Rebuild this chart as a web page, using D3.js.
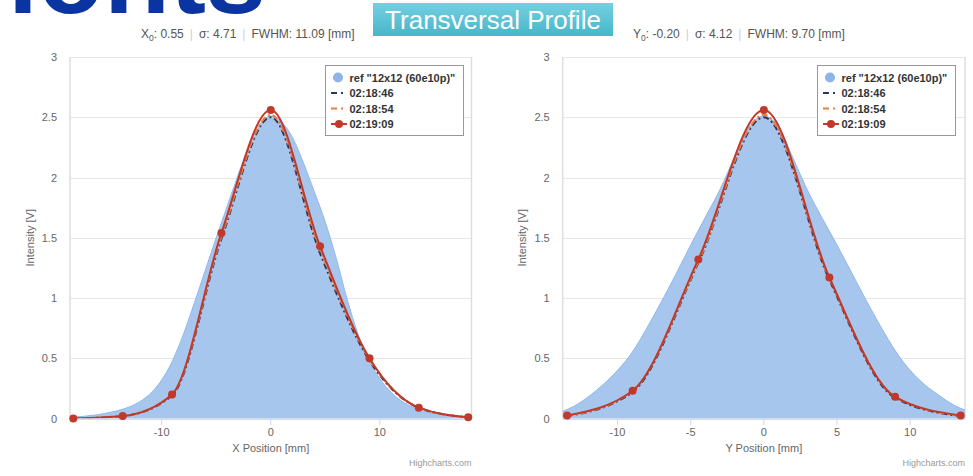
<!DOCTYPE html>
<html>
<head>
<meta charset="utf-8">
<script src="https://cdn.jsdelivr.net/npm/d3@7"></script>
<style>
  html, body { margin: 0; padding: 0; background: #fff; }
  svg { display: block; }
  text { font-family: "Liberation Sans", Arial, sans-serif; }
</style>
</head>
<body>
<svg id="chart" width="973" height="476"></svg>
<script>
// ---------------- DATA ----------------
const titleText = "Transversal Profile";
const logoText = "ionts";
const seriesNames = ['ref "12x12 (60e10p)"', "02:18:46", "02:18:54", "02:19:09"];
const yTicks = [0, 0.5, 1, 1.5, 2, 2.5, 3];

// Left panel (X profile)
const xStatsLeft = { label: "X", mean: "0.55", sigma: "4.71", fwhm: "11.09" };
const xTicksLeft = [-10, 0, 10];
const xRefLeft = [-18.4, -16, -14.5, -13, -12, -11, -10, -9, -8, -7, -6, -5, -4, -3, -2, -1, 0, 1, 2, 3, 4, 5, 6, 7, 8, 9, 10, 11, 12, 13, 14, 15, 16, 18.4];
const yRefLeft = [0.01, 0.03, 0.055, 0.095, 0.14, 0.21, 0.32, 0.48, 0.70, 0.96, 1.23, 1.50, 1.76, 2.02, 2.26, 2.44, 2.51, 2.46, 2.33, 2.12, 1.88, 1.63, 1.33, 0.99, 0.70, 0.48, 0.33, 0.22, 0.145, 0.095, 0.06, 0.04, 0.025, 0.01];
const xPtsLeft = [-18.1, -13.57, -9.05, -4.52, 0, 4.52, 9.05, 13.57, 18.1];
const y1846Left = [0.00, 0.02, 0.19, 1.49, 2.50, 1.37, 0.48, 0.09, 0.01];
const y1854Left = [0.00, 0.02, 0.20, 1.51, 2.52, 1.40, 0.49, 0.09, 0.01];
const y1909Left = [0.00, 0.02, 0.20, 1.54, 2.56, 1.43, 0.50, 0.09, 0.01];

// Right panel (Y profile)
const yStatsRight = { label: "Y", mean: "-0.20", sigma: "4.12", fwhm: "9.70" };
const xTicksRight = [-10, -5, 0, 5, 10];
const xRefRight = [-13.75, -13, -12, -11, -10, -9, -8, -7, -6, -5, -4, -3, -2, -1, 0, 1, 2, 3, 4, 5, 6, 7, 8, 9, 10, 11, 12, 13, 13.75];
const yRefRight = [0.06, 0.10, 0.18, 0.28, 0.40, 0.55, 0.75, 0.97, 1.20, 1.44, 1.67, 1.90, 2.17, 2.42, 2.51, 2.42, 2.16, 1.89, 1.66, 1.44, 1.21, 0.98, 0.76, 0.56, 0.40, 0.28, 0.19, 0.11, 0.07];
const xPtsRight = [-13.45, -8.97, -4.48, 0, 4.48, 8.97, 13.45];
const y1846Right = [0.02, 0.22, 1.29, 2.50, 1.15, 0.17, 0.02];
const y1854Right = [0.02, 0.23, 1.30, 2.52, 1.16, 0.18, 0.02];
const y1909Right = [0.025, 0.23, 1.32, 2.56, 1.17, 0.18, 0.025];

// ---------------- STYLE ----------------
const C = {
  refFill: "#a7c6ee", refLine: "#8fb7ec", refLegend: "#8db5ea",
  s1846: "#2d3858", s1854: "#ef7b3c", s1909: "#c0392b",
  grid: "#e6e6e6", border: "#dedede", axis: "#ccd6eb", label: "#666666"
};

const svg = d3.select("#chart");
const defs = svg.append("defs");

// logo (cropped at top)
svg.append("text").attr("x", 8).attr("y", 13)
  .attr("font-size", 108).attr("font-weight", "bold")
  .attr("fill", "#0a35a0").text(logoText);

// title box
const grad = defs.append("linearGradient").attr("id", "tg")
  .attr("x1", 0).attr("y1", 0).attr("x2", 0).attr("y2", 1);
grad.append("stop").attr("offset", "0%").attr("stop-color", "#74d0e0");
grad.append("stop").attr("offset", "100%").attr("stop-color", "#47b6ca");
svg.append("rect").attr("x", 373).attr("y", 3).attr("width", 240).attr("height", 33).attr("fill", "url(#tg)");
svg.append("text").attr("x", 493).attr("y", 29.3).attr("text-anchor", "middle")
  .attr("font-size", 26).attr("fill", "#fff").text(titleText);

function drawStats(x, y, s) {
  const t = svg.append("text").attr("x", x).attr("y", y).attr("font-size", 12).attr("fill", "#555");
  t.append("tspan").text(s.label);
  t.append("tspan").attr("font-size", 8.5).attr("dy", 3).text("0");
  t.append("tspan").attr("dy", -3).text(":\u00a0" + s.mean);
  t.append("tspan").attr("dx", 6).attr("fill", "#d0d0d0").text("|");
  t.append("tspan").attr("dx", 6).text("σ:\u00a0" + s.sigma);
  t.append("tspan").attr("dx", 6).attr("fill", "#d0d0d0").text("|");
  t.append("tspan").attr("dx", 6).text("FWHM:\u00a0" + s.fwhm + "\u00a0[mm]");
}
drawStats(141, 38, xStatsLeft);
drawStats(633, 38, yStatsRight);

let clipId = 0;
function drawPanel(p) {
  const x = d3.scaleLinear().domain(p.xDomain).range([p.left, p.right]);
  const y = d3.scaleLinear().domain([0, 3]).range([418.5, 57]);
  const g = svg.append("g");

  // grid
  g.selectAll(".grid").data(yTicks).join("line")
    .attr("x1", p.left).attr("x2", p.right)
    .attr("y1", d => Math.round(y(d)) + 0.5).attr("y2", d => Math.round(y(d)) + 0.5)
    .attr("stroke", C.grid).attr("stroke-width", 1);
  // side borders
  [p.left, p.right].forEach(xx => g.append("line")
    .attr("x1", xx).attr("x2", xx).attr("y1", y(3)).attr("y2", y(0))
    .attr("stroke", C.border).attr("stroke-width", 1.5));

  // y tick labels
  g.selectAll(".yl").data(yTicks).join("text")
    .attr("x", p.left - 13).attr("y", d => y(d) + 4)
    .attr("text-anchor", "end").attr("font-size", 11).attr("fill", C.label)
    .text(d => d3.format("~g")(d));
  // y title
  g.append("text").attr("transform", `translate(${p.left - 36.5},${(y(0) + y(3)) / 2}) rotate(-90)`)
    .attr("text-anchor", "middle").attr("font-size", 11).attr("fill", C.label).text("Intensity [V]");

  // clip
  const cid = "clip" + (clipId++);
  defs.append("clipPath").attr("id", cid).append("rect")
    .attr("x", p.left).attr("y", y(3) - 5).attr("width", p.right - p.left).attr("height", y(0) - y(3) + 5);
  const plot = g.append("g").attr("clip-path", `url(#${cid})`);

  const curve = d3.curveMonotoneX;
  const refData = p.xRef.map((v, i) => [v, p.yRef[i]]);
  plot.append("path").datum(refData)
    .attr("d", d3.area().x(d => x(d[0])).y0(y(0)).y1(d => y(d[1])).curve(curve))
    .attr("fill", C.refFill);
  plot.append("path").datum(refData)
    .attr("d", d3.line().x(d => x(d[0])).y(d => y(d[1])).curve(curve))
    .attr("fill", "none").attr("stroke", C.refLine).attr("stroke-width", 1);

  const line = d3.line().x(d => x(d[0])).y(d => y(d[1])).curve(curve);
  const s46 = p.xPts.map((v, i) => [v, p.y46[i]]);
  const s54 = p.xPts.map((v, i) => [v, p.y54[i]]);
  const s09 = p.xPts.map((v, i) => [v, p.y09[i]]);
  plot.append("path").datum(s46).attr("d", line).attr("fill", "none")
    .attr("stroke", C.s1846).attr("stroke-width", 2).attr("stroke-dasharray", "6,3,2,3");
  plot.append("path").datum(s54).attr("d", line).attr("fill", "none")
    .attr("stroke", C.s1854).attr("stroke-width", 2).attr("stroke-dasharray", "6,3,2,3");
  plot.append("path").datum(s09).attr("d", line).attr("fill", "none")
    .attr("stroke", C.s1909).attr("stroke-width", 2);

  // x axis
  g.append("line").attr("x1", p.left).attr("x2", p.right).attr("y1", 419).attr("y2", 419)
    .attr("stroke", C.axis).attr("stroke-width", 1.5);
  g.selectAll(".xt").data(p.xTicks).join("line")
    .attr("x1", d => x(d)).attr("x2", d => x(d)).attr("y1", 419).attr("y2", 425)
    .attr("stroke", C.axis).attr("stroke-width", 1);
  g.selectAll(".xl").data(p.xTicks).join("text")
    .attr("x", d => x(d)).attr("y", 435.5).attr("text-anchor", "middle")
    .attr("font-size", 11).attr("fill", C.label).text(d => d3.format("d")(d).replace("−", "-"));
  g.append("text").attr("x", (p.left + p.right) / 2).attr("y", 452)
    .attr("text-anchor", "middle").attr("font-size", 11).attr("fill", C.label).text(p.xTitle);

  // markers on top
  g.selectAll(".mk").data(s09).join("circle")
    .attr("cx", d => x(d[0])).attr("cy", d => y(d[1])).attr("r", 4).attr("fill", C.s1909);

  // credits
  g.append("text").attr("x", p.right).attr("y", 466).attr("text-anchor", "end")
    .attr("font-size", 9).attr("fill", "#999").text("Highcharts.com");

  // legend
  const lx = p.legendX, ly = 65;
  const lg = g.append("g");
  lg.append("rect").attr("x", lx + 0.5).attr("y", ly + 0.5).attr("width", 138).attr("height", 70)
    .attr("fill", "#fff").attr("stroke", "#999").attr("stroke-width", 1);
  const rows = [12.5, 28, 43.5, 59];
  lg.append("circle").attr("cx", lx + 13).attr("cy", ly + rows[0]).attr("r", 5).attr("fill", C.refLegend);
  [[C.s1846, "6,4,2,20"], [C.s1854, "6,4,2,20"], [C.s1909, null]].forEach((c, i) => {
    const ln = lg.append("line").attr("x1", lx + 6).attr("x2", lx + 22)
      .attr("y1", ly + rows[i + 1]).attr("y2", ly + rows[i + 1])
      .attr("stroke", c[0]).attr("stroke-width", 2);
    if (c[1]) ln.attr("stroke-dasharray", c[1]);
  });
  lg.append("circle").attr("cx", lx + 14).attr("cy", ly + rows[3]).attr("r", 4).attr("fill", C.s1909);
  seriesNames.forEach((n, i) => lg.append("text").attr("x", lx + 24.5).attr("y", ly + rows[i] + 4)
    .attr("font-size", 11).attr("font-weight", "bold").attr("fill", "#333").text(n));
}

drawPanel({
  left: 70, right: 471.5, xDomain: [-18.4, 18.4], xTicks: xTicksLeft, xTitle: "X Position [mm]",
  xRef: xRefLeft, yRef: yRefLeft, xPts: xPtsLeft, y46: y1846Left, y54: y1854Left, y09: y1909Left,
  legendX: 325
});
drawPanel({
  left: 562.7, right: 965, xDomain: [-13.75, 13.75], xTicks: xTicksRight, xTitle: "Y Position [mm]",
  xRef: xRefRight, yRef: yRefRight, xPts: xPtsRight, y46: y1846Right, y54: y1854Right, y09: y1909Right,
  legendX: 817
});
</script>
</body>
</html>
